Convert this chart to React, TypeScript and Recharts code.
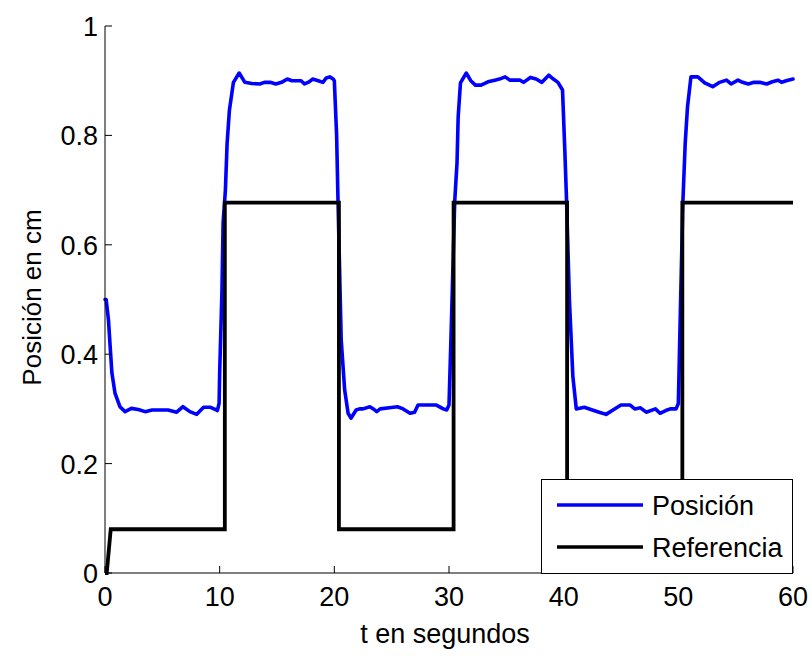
import React from 'react';
import { ComposedChart, Line, XAxis, YAxis, Legend, Label } from 'recharts';

// ---- data ----
const posT = [
  0, 0.1, 0.3, 0.45, 0.6, 0.87, 1.3, 1.75, 2.3, 2.9, 3.5, 4.1, 4.8, 5.5, 6.25, 6.8, 7.4, 8.0, 8.6, 9.2, 9.7, 9.8, 9.95,
  10.0, 10.2, 10.3, 10.5, 10.65, 10.85, 11.2, 11.7, 12.2, 12.8, 13.5, 13.9, 14.4, 14.9, 15.4, 15.9, 16.3, 16.7, 17.1, 17.4,
  17.8, 18.1, 18.6, 19.0, 19.3, 19.6, 19.9, 20.0, 20.2, 20.3, 20.5, 20.6, 20.9, 21.2, 21.45, 21.9, 22.2, 22.5, 23.1, 23.4,
  23.7, 24.0, 24.8, 25.5, 26.0, 26.6, 27.0, 27.3, 28.0, 28.9, 29.5, 29.8, 30.0, 30.2, 30.5, 30.7, 30.8, 31.0, 31.5, 31.9,
  32.3, 32.8, 33.4, 34.0, 34.4, 34.9, 35.3, 35.8, 36.2, 36.5, 37.1, 37.6, 38.1, 38.7, 39.1, 39.5, 39.9, 40.1, 40.25, 40.5,
  40.8, 41.1, 41.8, 42.5, 43.1, 43.7, 44.3, 45.0, 45.8, 46.2, 46.7, 47.2, 48.0, 48.4, 48.9, 49.3, 49.8, 50.0, 50.2, 50.4,
  50.6, 50.8, 51.1, 51.7, 52.3, 53.0, 53.6, 54.2, 54.6, 55.2, 55.6, 56.1, 56.6, 57.1, 57.7, 58.2, 58.7, 59.0, 59.4, 60.0,
];
const posV = [
  0.5, 0.5, 0.463, 0.414, 0.366, 0.329, 0.304, 0.295, 0.301, 0.299, 0.295, 0.298, 0.298, 0.298, 0.294, 0.304, 0.295, 0.29, 0.303, 0.303, 0.298, 0.297, 0.31,
  0.366, 0.517, 0.64, 0.7, 0.786, 0.846, 0.897, 0.914, 0.897, 0.895, 0.894, 0.897, 0.897, 0.894, 0.897, 0.903, 0.9, 0.9, 0.9, 0.894,
  0.898, 0.903, 0.9, 0.897, 0.905, 0.907, 0.903, 0.9, 0.8, 0.7, 0.517, 0.426, 0.335, 0.292, 0.283, 0.298, 0.3, 0.3, 0.304, 0.3,
  0.295, 0.3, 0.302, 0.304, 0.3, 0.292, 0.294, 0.307, 0.307, 0.307, 0.3, 0.298, 0.307, 0.45, 0.68, 0.75, 0.834, 0.896, 0.914, 0.9,
  0.892, 0.892, 0.898, 0.901, 0.903, 0.907, 0.901, 0.901, 0.901, 0.897, 0.906, 0.903, 0.897, 0.91, 0.903, 0.897, 0.883, 0.773, 0.682, 0.5,
  0.36, 0.3, 0.303, 0.298, 0.294, 0.29, 0.298, 0.307, 0.307, 0.3, 0.302, 0.294, 0.3, 0.292, 0.297, 0.3, 0.3, 0.31, 0.5, 0.68,
  0.786, 0.852, 0.907, 0.907, 0.896, 0.889, 0.897, 0.901, 0.894, 0.901, 0.897, 0.894, 0.897, 0.897, 0.894, 0.898, 0.901, 0.897, 0.9, 0.903,
];
const refT = [0, 0.15, 0.5, 10.45, 10.45, 20.4, 20.4, 30.4, 30.4, 40.3, 40.3, 50.35, 50.35, 60];
const refV = [0, 0, 0.08, 0.08, 0.677, 0.677, 0.08, 0.08, 0.677, 0.677, 0.08, 0.08, 0.677, 0.677];

const seriesNames = ['Posición', 'Referencia'];
const seriesColors = ['#0000ff', '#000000'];
const xTicks = [0, 10, 20, 30, 40, 50, 60];
const yTicks = [0, 0.2, 0.4, 0.6, 0.8, 1];
const xLabel = 't en segundos';
const yLabel = 'Posición en cm';

const posData = posT.map((t, i) => ({ t, v: posV[i] }));
const refData = refT.map((t, i) => ({ t, v: refV[i] }));

// ---- styles ----
const FONT = '"Liberation Sans", Arial, Helvetica, sans-serif';
const FS = 26;
const TFS = 27;
const TL = 7;

const BottomTick = (props: any) => {
  const { x, y, payload } = props;
  return (
    <g>
      <line x1={x} y1={y} x2={x} y2={y - TL} stroke="#000" strokeWidth={1} />
      <text x={x} y={y + 33} textAnchor="middle" fontSize={TFS} fontFamily={FONT} fill="#000">
        {String(payload.value)}
      </text>
    </g>
  );
};
const TopTick = (props: any) => {
  const { x, y } = props;
  return <line x1={x} y1={y} x2={x} y2={y + TL} stroke="#000" strokeWidth={1} />;
};
const LeftTick = (props: any) => {
  const { x, y, payload } = props;
  return (
    <g>
      <line x1={x} y1={y} x2={x + TL} y2={y} stroke="#000" strokeWidth={1} />
      <text x={x - 7} y={y + 10} textAnchor="end" fontSize={TFS} fontFamily={FONT} fill="#000">
        {String(payload.value)}
      </text>
    </g>
  );
};
const RightTick = (props: any) => {
  const { x, y } = props;
  return <line x1={x} y1={y} x2={x - TL} y2={y} stroke="#000" strokeWidth={1} />;
};

const renderLegend = (props: any) => {
  const payload = props.payload || [];
  return (
    <svg width={252} height={95} style={{ display: 'block' }}>
      <rect x={0.5} y={0.5} width={251} height={94} fill="#fff" stroke="#000" strokeWidth={1} />
      {payload.map((p: any, i: number) => {
        const cy = 26 + i * 42;
        return (
          <g key={i}>
            <line x1={16} x2={102} y1={cy} y2={cy} stroke={p.color} strokeWidth={3.6} />
            <text x={111} y={cy + 9.5} fontSize={TFS} fontFamily={FONT} fill="#000">
              {p.value}
            </text>
          </g>
        );
      })}
    </svg>
  );
};

export default function App() {
  return (
    <div style={{ position: 'absolute', left: 0, top: 0, width: 812, height: 656, background: '#fff' }}>
      <ComposedChart width={812} height={656} margin={{ top: 26, right: 19, bottom: 0, left: 0 }}>
        <XAxis
          dataKey="t"
          type="number"
          domain={[0, 60]}
          ticks={xTicks}
          interval={0}
          height={83}
          tickSize={0}
          tickMargin={0}
          tickLine={false}
          tick={<BottomTick />}
          axisLine={{ stroke: '#000', strokeWidth: 1 }}
        >
          <Label
            content={(p: any) => {
              const vb = p.viewBox || { x: 105, y: 573, width: 688 };
              return (
                <text x={vb.x + vb.width / 2 - 4} y={vb.y + 70} textAnchor="middle" fontSize={FS + 1} fontFamily={FONT} fill="#000">
                  {xLabel}
                </text>
              );
            }}
          />
        </XAxis>
        <XAxis
          xAxisId="top"
          orientation="top"
          type="number"
          domain={[0, 60]}
          allowDataOverflow
          ticks={xTicks}
          interval={0}
          height={0}
          tickSize={0}
          tickMargin={0}
          tickLine={false}
          tick={<TopTick />}
          axisLine={{ stroke: '#000', strokeWidth: 1 }}
        />
        <YAxis
          type="number"
          domain={[0, 1]}
          ticks={yTicks}
          interval={0}
          width={105}
          tickSize={0}
          tickMargin={0}
          tickLine={false}
          tick={<LeftTick />}
          axisLine={{ stroke: '#000', strokeWidth: 1 }}
        >
          <Label
            content={(p: any) => {
              const vb = p.viewBox || { x: 0, y: 26, height: 547 };
              const cx = 41;
              const cy = vb.y + vb.height / 2 - 2;
              return (
                <text x={cx} y={cy} transform={`rotate(-90 ${cx} ${cy})`} textAnchor="middle" fontSize={FS} fontFamily={FONT} fill="#000">
                  {yLabel}
                </text>
              );
            }}
          />
        </YAxis>
        <YAxis
          yAxisId="right"
          orientation="right"
          type="number"
          domain={[0, 1]}
          allowDataOverflow
          ticks={yTicks}
          interval={0}
          width={0}
          tickSize={0}
          tickMargin={0}
          tickLine={false}
          tick={<RightTick />}
          axisLine={{ stroke: '#000', strokeWidth: 1 }}
        />
        <Line
          data={posData}
          dataKey="v"
          name={seriesNames[0]}
          stroke={seriesColors[0]}
          strokeWidth={3.6}
          dot={false}
          activeDot={false}
          type="linear"
          strokeLinejoin="round"
          strokeLinecap="round"
          isAnimationActive={false}
        />
        <Line
          data={refData}
          dataKey="v"
          name={seriesNames[1]}
          stroke={seriesColors[1]}
          strokeWidth={3.8}
          dot={false}
          activeDot={false}
          type="linear"
          strokeLinejoin="miter"
          isAnimationActive={false}
        />
        <Legend
          layout="vertical"
          align="center"
          verticalAlign="middle"
          content={renderLegend}
          wrapperStyle={{ position: 'absolute', left: 541, top: 479, width: 252, height: 95, margin: 0, padding: 0 }}
        />
      </ComposedChart>
    </div>
  );
}
